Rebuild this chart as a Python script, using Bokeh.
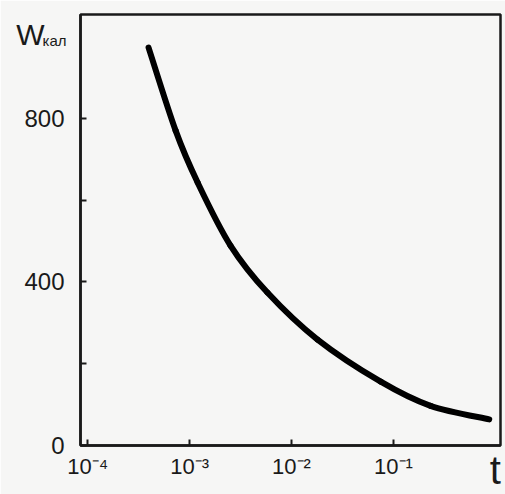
import numpy as np
from bokeh.plotting import figure
from bokeh.models import Range1d, FixedTicker, LinearAxis, LogAxis
from bokeh.embed import file_html
from bokeh.resources import INLINE

# data
t_vals = [3.96e-4, 7.3e-4, 1.2e-3, 2.52e-3, 5.8e-3, 1.8e-2, 7.5e-2, 0.231, 0.87]
w_vals = [973, 770, 643, 489, 374, 259, 156, 97, 64]

x_ticks = [1e-4, 1e-3, 1e-2, 1e-1]
x_tick_labels = ["10⁻⁴", "10⁻³", "10⁻²", "10⁻¹"]
y_ticks = [0, 200, 400, 600, 800]
y_tick_labels = ["0", "", "400", "", "800"]

# axis titles and where they sit on their scale
y_title, y_title_at = "W", 1005
y_sub, y_sub_at = "кал", 991
x_title, x_title_at = "t", 1.0

BG = "#f6f6f5"
INK = "#1a1a1a"
FONT = "Liberation Sans"
X0, X1 = 10 ** -4.07, 10 ** 0.05
Y0, Y1 = 0, 1054

p = figure(width=505, height=494, x_axis_type="log",
           x_range=Range1d(X0, X1), y_range=Range1d(Y0, Y1),
           output_backend="svg", toolbar_location=None,
           min_border_left=80, min_border_right=5, min_border_top=14, min_border_bottom=49,
           background_fill_color=BG, border_fill_color=BG)

p.grid.visible = False
p.outline_line_color = INK
p.outline_line_width = 2.5

# smooth curve through the read points (Catmull-Rom drawn as cubic Bezier segments,
# computed in log10(t) so the curve is smooth on the log axis)
u = np.log10(np.array(t_vals, dtype=float))
v = np.array(w_vals, dtype=float)
up = np.concatenate([[u[0]], u, [u[-1]]])
vp = np.concatenate([[v[0]], v, [v[-1]]])
x0, y0 = up[1:-2], vp[1:-2]
x1, y1 = up[2:-1], vp[2:-1]
cx0 = x0 + (up[2:-1] - up[0:-3]) / 6
cy0 = y0 + (vp[2:-1] - vp[0:-3]) / 6
cx1 = x1 - (up[3:] - up[1:-2]) / 6
cy1 = y1 - (vp[3:] - vp[1:-2]) / 6
p.bezier(x0=10 ** x0, y0=y0, x1=10 ** x1, y1=y1,
         cx0=10 ** cx0, cy0=cy0, cx1=10 ** cx1, cy1=cy1,
         line_color="black", line_width=6, line_cap="round")

xa = p.xaxis[0]
xa.ticker = FixedTicker(ticks=x_ticks)
xa.major_label_overrides = {k: v for k, v in zip(x_ticks, x_tick_labels)}
xa.minor_tick_line_color = None
xa.major_tick_in = 6
xa.major_tick_out = 0
xa.major_tick_line_width = 2
xa.major_tick_line_color = INK
xa.axis_line_width = 2.5
xa.axis_line_color = INK
xa.major_label_text_font = FONT
xa.major_label_text_font_size = "22px"
xa.major_label_text_color = INK
xa.major_label_standoff = 8

ya = p.yaxis[0]
ya.ticker = FixedTicker(ticks=y_ticks)
ya.major_label_overrides = {k: v for k, v in zip(y_ticks, y_tick_labels)}
ya.minor_tick_line_color = None
ya.major_tick_in = 6
ya.major_tick_out = 0
ya.major_tick_line_width = 2
ya.major_tick_line_color = INK
ya.axis_line_width = 2.5
ya.axis_line_color = INK
ya.major_label_text_font = FONT
ya.major_label_text_font_size = "24px"
ya.major_label_text_color = INK
ya.major_label_standoff = 16


def title_axis(axis, at, label, size, standoff):
    """An extra, line-less axis whose single label acts as the axis title."""
    axis.ticker = FixedTicker(ticks=[at])
    axis.major_label_overrides = {at: label}
    axis.axis_line_color = None
    axis.major_tick_line_color = None
    axis.minor_tick_line_color = None
    axis.major_tick_in = 0
    axis.major_tick_out = 0
    axis.major_label_text_font = FONT
    axis.major_label_text_font_size = size
    axis.major_label_text_color = INK
    axis.major_label_standoff = standoff
    return axis


p.add_layout(title_axis(LinearAxis(), y_title_at, y_title, "30px", -23), "left")
p.add_layout(title_axis(LinearAxis(), y_sub_at, y_sub, "15px", -53), "left")
p.add_layout(title_axis(LogAxis(), x_title_at, x_title, "40px", -34), "below")

open("out.html", "w").write(file_html(p, INLINE))
